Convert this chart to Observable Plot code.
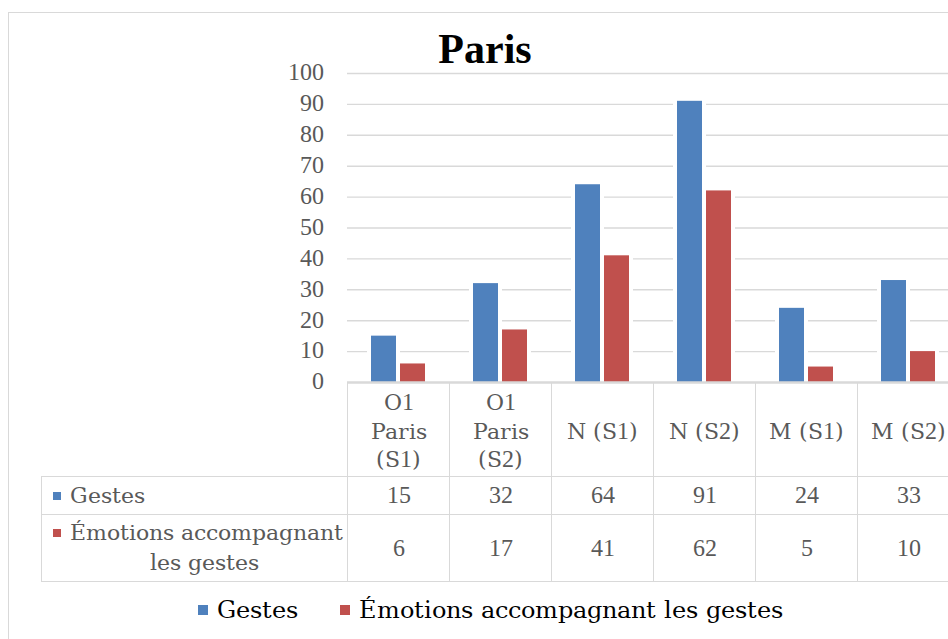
<!DOCTYPE html>
<html>
<head>
<meta charset="utf-8">
<script src="https://cdn.jsdelivr.net/npm/d3@7"></script>
<script src="https://cdn.jsdelivr.net/npm/@observablehq/plot@0.6"></script>
<style>
@font-face { font-family: "CMX"; src: local("DejaVu Serif"), local("DejaVuSerif"); }
@font-face { font-family: "CMX"; src: local("Liberation Serif"), local("LiberationSerif"), local("Liberation Serif Regular"); unicode-range: U+0030-0039; size-adjust: 111.6%; }
html, body { margin: 0; padding: 0; background: #fff; overflow: hidden; }
#wrap { position: relative; width: 948px; height: 639px; overflow: hidden; background: #fff;
  font-family: CMX, "DejaVu Serif", serif; }
#frame { position: absolute; left: 8px; top: 12px; width: 1000px; height: 700px; border: 1px solid #d9d9d9; }
#title { position: absolute; left: 0; width: 970px; top: 28px; text-align: center;
  font: bold 42px/42px "Liberation Serif", serif; color: #000; }
#chart { position: absolute; left: 0; top: 0; }
#tbl { position: absolute; left: 41px; top: 382px; border-collapse: collapse; table-layout: fixed;
  width: 918px; font-size: 21.5px; color: #595959; }
#tbl td { border: 1px solid #d9d9d9; padding: 0; text-align: center; vertical-align: middle; white-space: nowrap; }
#tbl tr.h td { border-top: none; height: 94px; }
#tbl tr.h td.corner { border-left: none; }
#tbl tr.r1 td { height: 37px; }
#tbl tr.r2 td { height: 66px; }
#tbl td.lab { position: relative; padding-left: 28px; padding-right: 8px; line-height: 30px; overflow: visible; }
#tbl tr.r1 td.lab { text-align: left; }
.sw { position: absolute; left: 11px; width: 8px; height: 8px; }
#legend { position: absolute; left: 198px; top: 596px; display: flex; align-items: center;
  font-size: 24px; color: #000; white-space: nowrap; }
#legend .item { display: flex; align-items: center; }
#legend .item + .item { margin-left: 42px; }
#legend .sq { width: 10px; height: 10px; margin-right: 9px; }
</style>
</head>
<body>
<div id="wrap">
  <div id="frame"></div>
  <div id="title">Paris</div>
  <div id="chart"></div>
  <table id="tbl"></table>
  <div id="legend"></div>
</div>
<script>
const categories = ["O1 Paris (S1)", "O1 Paris (S2)", "N (S1)", "N (S2)", "M (S1)", "M (S2)"];
const categoryLabels = ["O1\nParis\n(S1)", "O1\nParis\n(S2)", "N (S1)", "N (S2)", "M (S1)", "M (S2)"];
const seriesNames = ["Gestes", "Émotions accompagnant les gestes"];
const seriesTableLabels = ["Gestes", "Émotions accompagnant<br>les gestes"];
const gestes = [15, 32, 64, 91, 24, 33];
const emotions = [6, 17, 41, 62, 5, 10];
const yTicks = [0, 10, 20, 30, 40, 50, 60, 70, 80, 90, 100];
const colors = ["#4f81bd", "#c0504d"];

const rows = categories.map((c, i) => ({cat: c, gestes: gestes[i], emotions: emotions[i]}));
const labelOf = d => categoryLabels[categories.indexOf(d)];

const chart = Plot.plot({
  width: 948,
  height: 477,
  marginTop: 73,
  marginBottom: 95,
  marginLeft: 347,
  marginRight: 0,
  style: {background: "transparent", color: "#595959", fontFamily: "CMX, 'DejaVu Serif', serif", fontSize: "21.5px"},
  x: {domain: categories, range: [347, 959], padding: 0, axis: null},
  y: {domain: [0, 100], axis: null},
  marks: [
    Plot.gridY(yTicks.slice(1), {stroke: "#d9d9d9", strokeOpacity: 1, strokeWidth: 1.4}),
    Plot.barY(rows, {x: "cat", y: "gestes", fill: colors[0], insetLeft: 24, insetRight: 53,
      stroke: "white", strokeWidth: 8, paintOrder: "stroke"}),
    Plot.barY(rows, {x: "cat", y: "emotions", fill: colors[1], insetLeft: 53, insetRight: 24,
      stroke: "white", strokeWidth: 8, paintOrder: "stroke"}),
    Plot.ruleY([0], {stroke: "#d9d9d9", strokeWidth: 2.5}),
    Plot.axisY(yTicks, {tickSize: 0, tickPadding: 24, label: null}),
    Plot.axisX({tickSize: 0, tickPadding: 47, lineAnchor: "middle", lineHeight: 1.33, tickFormat: labelOf, label: null})
  ]
});
document.getElementById("chart").appendChild(chart);

// data table
const tbl = document.getElementById("tbl");
let html = '<colgroup><col style="width:306px">' + categories.map(() => '<col style="width:102px">').join("") + '</colgroup>';
html += '<tr class="h"><td class="corner"></td>' + categories.map(() => "<td></td>").join("") + "</tr>";
[gestes, emotions].forEach((vals, s) => {
  const sw = `<span class="sw" style="background:${colors[s]};top:${s === 0 ? "calc(50% - 4px)" : "14px"}"></span>`;
  html += `<tr class="r${s + 1}"><td class="lab">${sw}${seriesTableLabels[s]}</td>` +
    vals.map(v => `<td>${v}</td>`).join("") + "</tr>";
});
tbl.innerHTML = html;

// legend
document.getElementById("legend").innerHTML = seriesNames.map((n, i) =>
  `<div class="item"><div class="sq" style="background:${colors[i]}"></div><span>${n}</span></div>`).join("");
</script>
</body>
</html>
